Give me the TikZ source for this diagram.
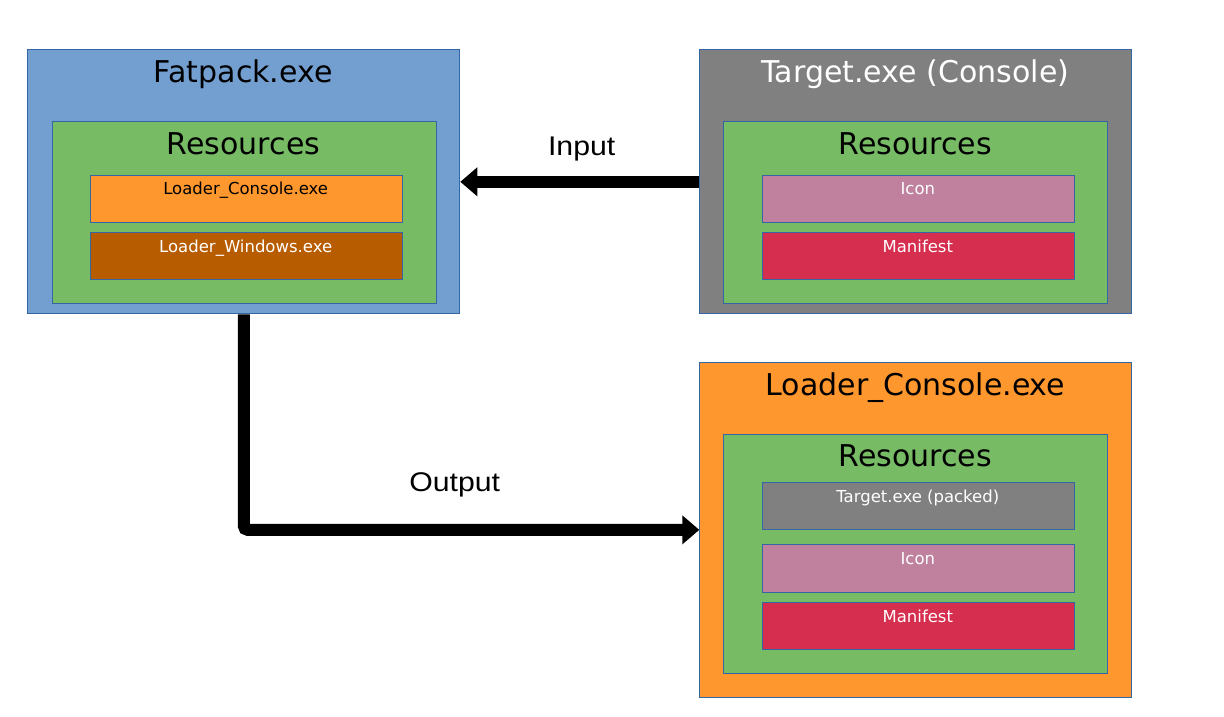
\documentclass[tikz,border=0pt]{standalone}
\usepackage{fontspec}
\setmainfont{DejaVu Sans}
\newfontfamily\lblfont[FakeStretch=1.12]{Liberation Sans}
\usetikzlibrary{arrows.meta}
\definecolor{bluefill}{HTML}{729FCF}
\definecolor{greenfill}{HTML}{77BB65}
\definecolor{orangefill}{HTML}{FF972F}
\definecolor{darkorange}{HTML}{B85C00}
\definecolor{grayfill}{HTML}{808080}
\definecolor{pinkfill}{HTML}{BF819E}
\definecolor{redfill}{HTML}{D62E4E}
\definecolor{bordercol}{HTML}{3465A4}
\begin{document}
\begin{tikzpicture}[x=1pt,y=-1pt,
  box/.style={draw=bordercol, line width=1pt, inner sep=0pt, anchor=north west},
  outerbox/.style={box, minimum width=432pt},
  resbox/.style={box, fill=greenfill, minimum width=384pt},
  itembox/.style={box, minimum width=312pt, minimum height=47.5pt},
  titletext/.style={anchor=base, inner sep=0pt, font=\fontsize{30}{36}\selectfont},
  itemtext/.style={anchor=base, inner sep=0pt, font=\fontsize{16.5}{20}\selectfont},
  lbl/.style={anchor=base, inner sep=0pt, font=\lblfont\fontsize{27}{32}\selectfont},
  conn/.style={line width=12pt, -{Triangle[length=17pt 0 0, width=28pt 0 0]}}
]
\useasboundingbox (0,0) rectangle (1224,716);
\fill[white] (0,0) rectangle (1224,716);

% Fatpack.exe
\node[outerbox, fill=bluefill, minimum height=264pt] (fatpack) at (27.3,49.3) {};
\node[resbox, minimum height=182pt] (fres) at (51.5,121.3) {};
\node[itembox, fill=orangefill] (fcon) at (89.7,174.5) {};
\node[itembox, fill=darkorange] (fwin) at (89.7,231.7) {};
\node[titletext] (fatpackT) at (243.3,82.7) {Fatpack.exe};
\node[titletext] (fresT) at (243.5,154.3) {Resources};
\node[itemtext] (fconT) at (245.7,194.3) {Loader\_Console.exe};
\node[itemtext, text=white] (fwinT) at (245.7,252) {Loader\_Windows.exe};

% Target.exe (Console)
\node[outerbox, fill=grayfill, minimum height=264pt] (target) at (699.3,49.3) {};
\node[resbox, minimum height=182pt] (tres) at (723.3,121.3) {};
\node[itembox, fill=pinkfill] (ticon) at (761.7,174.5) {};
\node[itembox, fill=redfill] (tman) at (761.7,231.7) {};
\node[titletext, text=white] (targetT) at (915.4,82.7) {Target.exe (Console)};
\node[titletext] (tresT) at (915.4,154.3) {Resources};
\node[itemtext, text=white] (ticonT) at (917.8,194.3) {Icon};
\node[itemtext, text=white] (tmanT) at (917.8,252.3) {Manifest};

% Loader_Console.exe
\node[outerbox, fill=orangefill, minimum height=335.3pt] (loader) at (699.3,361.7) {};
\node[resbox, minimum height=239.3pt] (lres) at (723.3,433.7) {};
\node[itembox, fill=grayfill] (lpack) at (761.7,481.7) {};
\node[itembox, fill=pinkfill] (licon) at (761.7,544) {};
\node[itembox, fill=redfill] (lman) at (761.7,601.7) {};
\node[titletext] (loaderT) at (915.4,395) {Loader\_Console.exe};
\node[titletext] (lresT) at (915.4,466) {Resources};
\node[itemtext, text=white] (lpackT) at (917.8,502.7) {Target.exe (packed)};
\node[itemtext, text=white] (liconT) at (917.8,564.3) {Icon};
\node[itemtext, text=white] (lmanT) at (917.8,622.3) {Manifest};

% connectors
\draw[conn] (target.west) -- (fatpack.east);
\draw[conn, rounded corners=4pt] (fatpack.south) |- (loader.west);
\node[lbl] (inlbl) at (581.7,155) {Input};
\node[lbl] (outlbl) at (454.7,491.7) {Output};
\end{tikzpicture}
\end{document}
